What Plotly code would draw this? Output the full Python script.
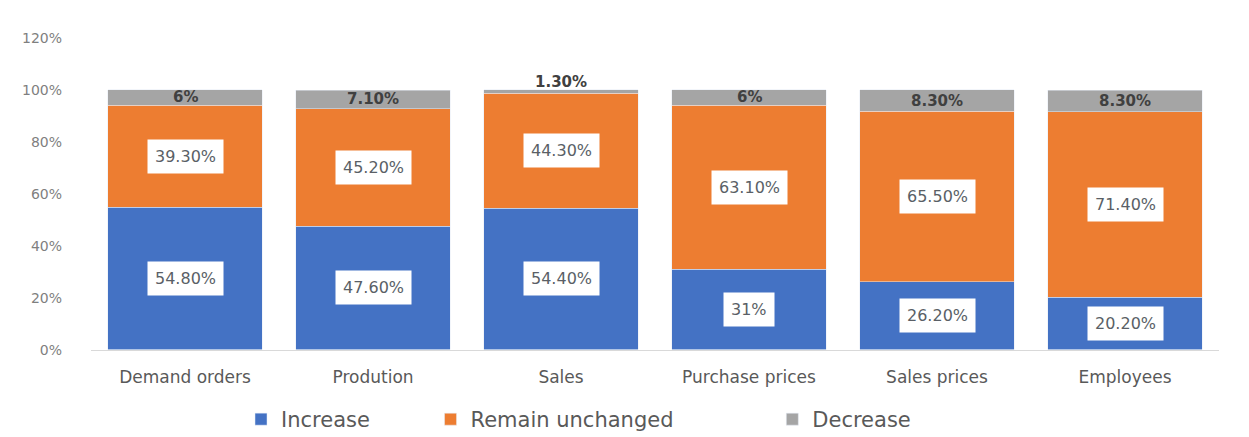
import plotly.graph_objects as go

categories = ["Demand orders", "Prodution", "Sales", "Purchase prices", "Sales prices", "Employees"]
increase = [54.8, 47.6, 54.4, 31.0, 26.2, 20.2]
unchanged = [39.3, 45.2, 44.3, 63.1, 65.5, 71.4]
decrease = [6.0, 7.1, 1.3, 6.0, 8.3, 8.3]
increase_text = ["54.80%", "47.60%", "54.40%", "31%", "26.20%", "20.20%"]
unchanged_text = ["39.30%", "45.20%", "44.30%", "63.10%", "65.50%", "71.40%"]
decrease_text = ["6%", "7.10%", "1.30%", "6%", "8.30%", "8.30%"]
y_ticks = [0, 20, 40, 60, 80, 100, 120]

BLUE, ORANGE, GREY = "#4472C4", "#ED7D31", "#A5A5A5"
FONT = "'DejaVu Sans', sans-serif"


def bar(y, name, color, legend):
    return go.Bar(x=categories, y=y, name=name, legend=legend, marker=dict(color=color))


fig = go.Figure()
fig.add_trace(bar(increase, "Increase", BLUE, "legend"))
fig.add_trace(bar(unchanged, "Remain unchanged", ORANGE, "legend2"))
fig.add_trace(bar(decrease, "Decrease", GREY, "legend3"))

annotations = []
for i, cat in enumerate(categories):
    top = increase[i] + unchanged[i]
    for y, txt in ((increase[i] / 2, increase_text[i]),
                   (increase[i] + unchanged[i] / 2, unchanged_text[i])):
        annotations.append(dict(
            x=cat, y=y, text=txt, showarrow=False, bgcolor="white",
            borderpad=7, font=dict(family=FONT, size=16, color="#5A5F66"),
        ))
    small = decrease[i] < 3
    annotations.append(dict(
        x=cat, y=top + decrease[i] / 2, text=f"<b>{decrease_text[i]}</b>", showarrow=False,
        yshift=10 if small else 0,
        font=dict(family=FONT, size=15, color="#404040"),
    ))

legend_common = dict(orientation="h", yref="container", yanchor="middle", y=0.04,
                     xanchor="left", font=dict(family=FONT, size=21, color="#595959"),
                     bgcolor="rgba(0,0,0,0)", itemclick=False, itemdoubleclick=False)

fig.update_layout(
    barmode="stack",
    bargap=0.18,
    showlegend=True,
    width=1249, height=437,
    margin=dict(l=91, r=30, t=38, b=86),
    paper_bgcolor="white", plot_bgcolor="white",
    font=dict(family=FONT, color="#595959"),
    annotations=annotations,
    legend=dict(x=0.133, **legend_common),
    legend2=dict(x=0.301, **legend_common),
    legend3=dict(x=0.604, **legend_common),
    xaxis=dict(showline=True, linecolor="#D9D9D9", linewidth=1, ticks="",
               ticklabelstandoff=12,
               tickfont=dict(family=FONT, size=17, color="#595959")),
    yaxis=dict(range=[0, 120], tickvals=y_ticks, ticktext=[f"{v}%" for v in y_ticks],
               showgrid=False, zeroline=False, showline=False,
               ticklabelstandoff=28,
               tickfont=dict(family=FONT, size=14, color="#7F7F7F")),
)

fig.write_html("out.html")
